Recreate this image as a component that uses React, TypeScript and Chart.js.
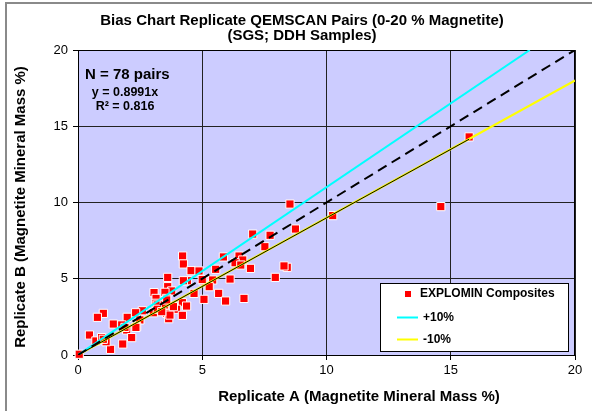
import React, { useEffect, useRef } from "react";
import { Chart, registerables } from "chart.js";

Chart.register(...registerables);

// ---------- data ----------
const replicateA = [
  8.53, 8.75, 7.03, 7.73, 7.52, 5.85, 6.48, 6.63, 6.32, 6.55,
  6.94, 5.54, 4.21, 4.24, 4.55, 4.87, 6.12, 5.42, 5.04, 4.4,
  4.24, 5.28, 3.61, 3.61, 3.77, 5.66, 4.67, 5.07, 5.94, 6.68,
  8.42, 8.29, 7.94, 3.06, 3.5, 3.14, 3.57, 3.14, 4.2, 4.37,
  3.68, 3.97, 3.57, 4.2, 3.65, 2.59, 2.32, 3.03, 2.49, 1.98,
  2.36, 1.02, 0.78, 1.42, 1.76, 1.96, 2.16, 1.8, 1.31, 0.46,
  0.72, 0.95, 1.13, 0.05, 10.25, 14.6, 15.74, 3.19, 1.89, 2.33,
  3.7, 3.47, 1.02, 3.84, 3.19, 3.37, 5.0, 3.57,
];
const replicateB = [
  9.9, 8.26, 7.93, 7.85, 7.1, 6.43, 6.49, 6.23, 6.05, 5.9,
  5.68, 5.62, 6.49, 5.97, 5.53, 5.51, 4.98, 4.92, 4.87, 4.87,
  4.87, 4.48, 5.09, 4.48, 4.2, 4.04, 4.04, 3.65, 3.54, 3.71,
  5.75, 5.84, 5.09, 4.09, 4.11, 3.71, 3.71, 3.39, 3.43, 3.21,
  3.17, 3.0, 2.73, 2.6, 2.38, 2.9, 2.77, 2.77, 2.3, 2.47,
  1.86, 2.73, 2.47, 2.03, 1.97, 1.64, 1.14, 0.72, 0.37, 1.31,
  0.92, 1.14, 0.87, 0.05, 9.14, 9.73, 14.3, 3.28, 1.81, 1.81,
  2.62, 3.28, 1.03, 3.17, 3.0, 2.84, 4.95, 3.61,
];

const oneToOneX = [0, 20];
const oneToOneY = [0, 20];
const plus10X = [0, 18.18];
const plus10Y = [0, 20];
const minus10X = [0, 20];
const minus10Y = [0, 18];
const trendX = [0, 15.74];
const trendY = [0, 14.15];

const axisMin = 0;
const axisMax = 20;
const axisStep = 5;

const titleLines = [
  "Bias Chart Replicate QEMSCAN Pairs (0-20 % Magnetite)",
  "(SGS; DDH Samples)",
];
const xTitle = "Replicate A (Magnetite Mineral Mass %)";
const yTitle = "Replicate B (Magnetite Mineral Mass %)";
const annotN = "N = 78 pairs";
const annotEq = "y = 0.8991x";
const annotR2 = "R² = 0.816";
const seriesLabel = "EXPLOMIN Composites";
const plusLabel = "+10%";
const minusLabel = "-10%";

const FONT = "'Liberation Sans', Arial, Helvetica, sans-serif";

const pts = (xs: number[], ys: number[]) => xs.map((x, i) => ({ x, y: ys[i] }));

const decorPlugin = {
  id: "decor",
  beforeDraw(chart: any) {
    const { ctx, chartArea: a } = chart;
    ctx.save();
    ctx.fillStyle = "#ffffff";
    ctx.fillRect(0, 0, chart.width, chart.height);
    ctx.strokeStyle = "#8a8a8a";
    ctx.lineWidth = 2;
    ctx.beginPath();
    ctx.moveTo(6, chart.height);
    ctx.lineTo(6, 3);
    ctx.lineTo(chart.width, 3);
    ctx.stroke();
    ctx.fillStyle = "#CCCCFF";
    ctx.fillRect(a.left, a.top, a.right - a.left, a.bottom - a.top);
    ctx.restore();
  },
  beforeDatasetsDraw(chart: any) {
    const { ctx, chartArea: a } = chart;
    ctx.save();
    ctx.strokeStyle = "#000000";
    ctx.lineWidth = 1;
    ctx.strokeRect(a.left + 0.5, a.top + 0.5, a.right - a.left - 1, a.bottom - a.top);
    ctx.restore();
  },
  afterDraw(chart: any) {
    const { ctx } = chart;
    ctx.save();
    ctx.fillStyle = "#000000";
    ctx.textBaseline = "middle";
    // title
    ctx.textAlign = "center";
    ctx.font = `bold 15px ${FONT}`;
    ctx.fillText(titleLines[0], 302, 21);
    ctx.fillText(titleLines[1], 302, 36);
    // x title
    ctx.font = `bold 15px ${FONT}`;
    ctx.fillText(xTitle, 359, 397);
    // y title
    ctx.save();
    ctx.translate(21, 207);
    ctx.rotate(-Math.PI / 2);
    ctx.fillText(yTitle, 0, 0);
    ctx.restore();
    // annotations
    ctx.textAlign = "left";
    ctx.font = `bold 15px ${FONT}`;
    ctx.fillText(annotN, 85, 75);
    ctx.textAlign = "center";
    ctx.font = `bold 12.5px ${FONT}`;
    ctx.fillText(annotEq, 125, 93);
    ctx.fillText(annotR2, 125, 107);

    // legend
    const ds = chart.data.datasets;
    const lx = 380, ly = 283, lw = 188, lh = 68;
    ctx.fillStyle = "#ffffff";
    ctx.fillRect(lx, ly, lw, lh);
    ctx.strokeStyle = "#000000";
    ctx.lineWidth = 1;
    ctx.strokeRect(lx + 0.5, ly + 0.5, lw, lh);
    ctx.font = `bold 12px ${FONT}`;
    ctx.textAlign = "left";
    const scatter = ds.find((d: any) => d.label === seriesLabel);
    ctx.fillStyle = scatter.backgroundColor;
    ctx.fillRect(405, 291, 6, 6);
    ctx.fillStyle = "#000000";
    ctx.fillText(seriesLabel, 420, 294);
    const plus = ds.find((d: any) => d.label === plusLabel);
    ctx.strokeStyle = plus.borderColor;
    ctx.lineWidth = 2;
    ctx.beginPath();
    ctx.moveTo(397, 317.5);
    ctx.lineTo(418, 317.5);
    ctx.stroke();
    ctx.fillText(plusLabel, 423, 318);
    const minus = ds.find((d: any) => d.label === minusLabel);
    ctx.strokeStyle = minus.borderColor;
    ctx.beginPath();
    ctx.moveTo(397, 339.5);
    ctx.lineTo(418, 339.5);
    ctx.stroke();
    ctx.fillText(minusLabel, 423, 340);
    ctx.restore();
  },
};

export default function App() {
  const ref = useRef<HTMLCanvasElement | null>(null);

  useEffect(() => {
    if (!ref.current) return;
    const chart = new Chart(ref.current, {
      type: "scatter",
      data: {
        datasets: [
          {
            label: "Trend",
            data: pts(trendX, trendY),
            showLine: true,
            borderColor: "#000000",
            borderWidth: 1,
            pointRadius: 0,
            order: 0,
          },
          {
            label: "1:1",
            data: pts(oneToOneX, oneToOneY),
            showLine: true,
            borderColor: "#000000",
            borderWidth: 2,
            borderDash: [10, 6],
            pointRadius: 0,
            order: 1,
          },
          {
            label: plusLabel,
            data: pts(plus10X, plus10Y),
            showLine: true,
            borderColor: "#00FFFF",
            borderWidth: 2,
            pointRadius: 0,
            order: 2,
          },
          {
            label: minusLabel,
            data: pts(minus10X, minus10Y),
            showLine: true,
            borderColor: "#FFFF00",
            borderWidth: 2,
            pointRadius: 0,
            order: 3,
          },
          {
            label: seriesLabel,
            data: pts(replicateA, replicateB),
            pointStyle: "rect",
            pointRadius: 5.8,
            backgroundColor: "#FF0000",
            borderColor: "#FFFFFF",
            borderWidth: 1,
            clip: false as any,
            order: 10,
          },
        ],
      },
      options: {
        animation: false,
        responsive: false,
        maintainAspectRatio: false,
        layout: { padding: { left: 0, top: 50, right: 17, bottom: 0 } },
        plugins: {
          legend: { display: false },
          tooltip: { enabled: false },
          title: { display: false },
        },
        scales: {
          x: {
            type: "linear",
            min: axisMin,
            max: axisMax,
            ticks: {
              stepSize: axisStep,
              color: "#000000",
              font: { family: FONT, size: 13 },
              padding: 3,
              maxRotation: 0,
            },
            grid: { color: "#222222", lineWidth: 1, tickLength: 5, tickColor: "#000000" },
            border: { display: true, color: "#000000" },
            afterFit: (s: any) => {
              s.height = 56;
            },
          },
          y: {
            type: "linear",
            min: axisMin,
            max: axisMax,
            ticks: {
              stepSize: axisStep,
              color: "#000000",
              font: { family: FONT, size: 13 },
              padding: 5,
            },
            grid: { color: "#222222", lineWidth: 1, tickLength: 5, tickColor: "#000000" },
            border: { display: true, color: "#000000" },
            afterFit: (s: any) => {
              s.width = 78;
            },
          },
        },
      },
      plugins: [decorPlugin],
    });
    return () => chart.destroy();
  }, []);

  return (
    <div style={{ position: "fixed", left: 0, top: 0, width: 592, height: 411 }}>
      <canvas ref={ref} width={592} height={411} style={{ display: "block" }} />
    </div>
  );
}
